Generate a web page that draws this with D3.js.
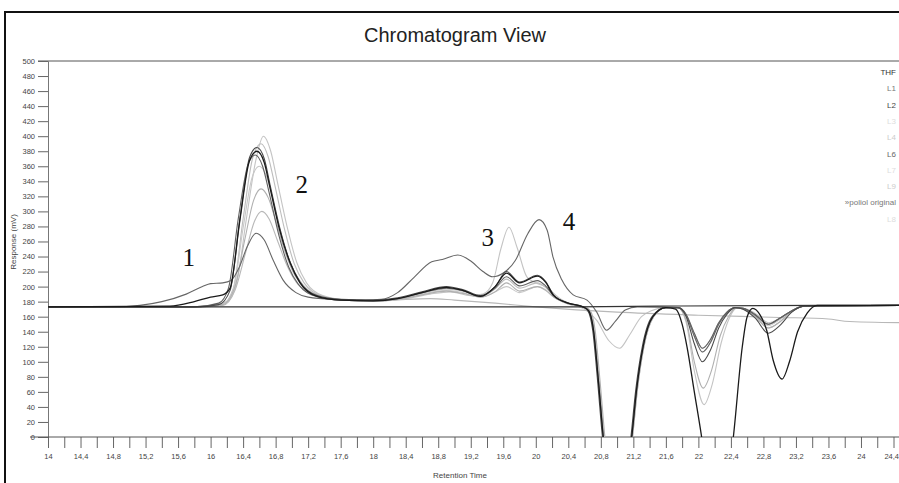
<!DOCTYPE html>
<html><head><meta charset="utf-8">
<script src="https://cdn.jsdelivr.net/npm/d3@7"></script>
<style>
html,body{margin:0;padding:0;background:#fff;}
svg{display:block;}
</style></head>
<body>
<script>
// ---- Data (retention time in min, response in mV) ----
const seriesNames = ["THF","L1","L2","L3","L4","L6","L7","L9","»poliol original","L8"];
const seriesColors = ["#333","#666","#1a1a1a","#c4c4c4","#b0b0b0","#4a4a4a","#bdbdbd","#b8b8b8","#606060","#c8c8c8"];
const legendColors = ["#333","#777","#444","#ddd","#ccc","#666","#ddd","#ccc","#777","#ddd"];

const thf = [[14,173],[18,173],[20.5,173],[21.5,174],[23.5,175],[24.5,175]];

const l1 = [[14,173],[14.8,173],[15.13,175],[15.4,180],[15.7,190],[15.9,200],[16.0,204],[16.15,205],[16.25,208],[16.35,225],[16.45,253],[16.56,271],[16.66,262],[16.77,235],[16.89,209],[17.05,192],[17.2,186],[17.5,183],[17.9,182],[18.1,183],[18.3,192],[18.5,212],[18.72,233],[18.85,236],[19.04,242],[19.2,234],[19.35,220],[19.47,213],[19.6,218],[19.75,235],[19.9,270],[20.04,289],[20.14,275],[20.21,240],[20.32,209],[20.46,189],[20.63,182],[20.75,166],[20.87,142],[20.98,154],[21.1,169],[21.25,173],[21.75,172],[21.85,162],[21.95,134],[22.05,113],[22.15,126],[22.25,150],[22.35,165],[22.45,172],[22.55,171],[22.7,162],[22.86,150],[23.0,158],[23.15,168],[23.3,174],[24.5,175]];

const l2 = [[14,173],[15.5,174],[15.8,180],[16.0,186],[16.15,189],[16.24,198],[16.36,288],[16.48,368],[16.57,380],[16.66,365],[16.73,332],[16.85,275],[16.98,231],[17.1,205],[17.31,187],[17.6,182],[18.0,181],[18.3,184],[18.6,192],[18.9,199],[19.1,195],[19.32,187],[19.5,200],[19.64,218],[19.8,205],[20.02,214],[20.12,206],[20.22,188],[20.4,178],[20.58,173],[20.65,168],[20.71,142],[20.77,75],[20.83,0],[20.9,-60],[21.0,-90],[21.1,-60],[21.18,0],[21.24,63],[21.32,120],[21.44,160],[21.6,172],[21.72,170],[21.8,150],[21.86,120],[21.95,60],[22.04,0],[22.12,-60],[22.24,-90],[22.36,-60],[22.43,0],[22.54,120],[22.6,160],[22.67,171],[22.76,162],[22.84,142],[22.92,102],[23.03,77],[23.12,100],[23.22,140],[23.34,165],[23.46,175],[24.5,175]];

const l3 = [[14,173],[15.8,173],[16.2,180],[16.32,205],[16.44,290],[16.56,370],[16.65,400],[16.74,380],[16.82,340],[16.94,280],[17.06,232],[17.18,205],[17.38,188],[17.7,182],[18.1,181],[18.4,184],[18.7,190],[18.95,193],[19.2,188],[19.35,190],[19.47,205],[19.57,250],[19.67,279],[19.77,252],[19.89,213],[20.0,205],[20.12,200],[20.3,184],[20.45,176],[20.6,170],[20.75,155],[20.9,128],[21.03,118],[21.15,135],[21.3,160],[21.42,168],[21.6,172],[21.75,172],[21.85,152],[21.95,88],[22.07,43],[22.17,70],[22.28,125],[22.38,158],[22.48,172],[22.6,170],[22.72,163],[22.86,152],[23.0,158],[23.15,168],[23.3,174],[24.5,175]];

const l4 = [[14,173],[15.8,173],[16.15,176],[16.3,200],[16.42,262],[16.53,315],[16.62,330],[16.71,318],[16.8,288],[16.92,245],[17.04,214],[17.16,198],[17.36,187],[17.6,182],[18.0,181],[18.3,183],[18.6,189],[18.9,194],[19.1,191],[19.32,186],[19.5,193],[19.64,205],[19.8,194],[20.02,200],[20.12,195],[20.22,186],[20.4,177],[20.6,173],[20.67,168],[20.73,142],[20.79,75],[20.85,0],[20.92,-60],[21.02,-90],[21.12,-60],[21.19,0],[21.25,63],[21.33,120],[21.45,160],[21.6,172],[21.75,172],[21.85,155],[21.95,100],[22.06,65],[22.16,88],[22.27,135],[22.37,160],[22.47,172],[22.57,170],[22.7,160],[22.86,145],[23.0,153],[23.15,167],[23.3,174],[24.5,175]];

const l6 = [[14,173],[15.8,173],[16.1,176],[16.24,195],[16.36,290],[16.48,372],[16.57,385],[16.66,370],[16.73,336],[16.85,278],[16.98,232],[17.1,206],[17.31,188],[17.6,183],[18.0,182],[18.3,185],[18.6,193],[18.9,200],[19.1,196],[19.32,188],[19.5,200],[19.64,220],[19.8,206],[20.02,215],[20.12,207],[20.22,189],[20.4,178],[20.58,173],[20.64,168],[20.7,142],[20.76,75],[20.82,0],[20.9,-60],[21.0,-90],[21.1,-60],[21.17,0],[21.23,63],[21.31,120],[21.43,160],[21.6,172],[21.75,172],[21.85,160],[21.95,124],[22.05,100],[22.15,116],[22.25,145],[22.35,163],[22.45,172],[22.55,170],[22.7,158],[22.86,138],[23.0,148],[23.15,166],[23.3,174],[24.5,175]];

const l7 = [[14,173],[15.8,173],[16.15,177],[16.28,198],[16.4,290],[16.52,372],[16.62,390],[16.71,372],[16.79,335],[16.91,276],[17.03,230],[17.15,205],[17.35,188],[17.6,182],[18.0,181],[18.3,184],[18.6,191],[18.9,197],[19.1,194],[19.32,187],[19.5,197],[19.64,210],[19.8,198],[20.02,205],[20.12,199],[20.22,187],[20.4,177],[20.58,173],[20.66,168],[20.72,142],[20.78,75],[20.84,0],[20.91,-60],[21.01,-90],[21.11,-60],[21.19,0],[21.25,63],[21.33,120],[21.45,160],[21.6,172],[21.75,172],[21.85,162],[21.95,134],[22.05,113],[22.15,126],[22.25,150],[22.35,165],[22.45,172],[22.55,170],[22.7,160],[22.86,145],[23.0,153],[23.15,167],[23.3,174],[24.5,175]];

const l9 = [[14,173],[15.8,173],[16.15,175],[16.3,195],[16.43,245],[16.54,287],[16.63,300],[16.72,290],[16.82,262],[16.94,228],[17.06,205],[17.2,193],[17.4,186],[17.7,182],[18.1,181],[18.4,183],[18.7,184],[19.0,182],[19.5,178],[20.0,173],[20.5,169],[21.0,166],[22.0,162],[23.0,159],[23.6,157],[23.8,154],[24.5,152]];

const poliol = [[14,173],[15.8,173],[16.1,178],[16.22,198],[16.34,290],[16.46,362],[16.55,375],[16.64,360],[16.72,325],[16.84,268],[16.96,226],[17.08,203],[17.3,187],[17.6,182],[18.0,181],[18.3,184],[18.6,192],[18.9,198],[19.1,195],[19.32,187],[19.5,198],[19.64,213],[19.8,201],[20.02,208],[20.12,201],[20.22,188],[20.4,178],[20.58,173],[20.65,168],[20.71,142],[20.77,75],[20.83,0],[20.9,-60],[21.0,-90],[21.1,-60],[21.18,0],[21.24,63],[21.32,120],[21.44,160],[21.6,172],[21.75,172],[21.85,163],[21.95,138],[22.05,118],[22.15,130],[22.25,152],[22.35,166],[22.45,172],[22.55,171],[22.7,163],[22.86,150],[23.0,158],[23.15,168],[23.3,174],[24.5,175]];

const l8 = [[14,173],[15.8,173],[16.15,176],[16.28,196],[16.4,278],[16.51,345],[16.6,360],[16.69,346],[16.78,310],[16.9,258],[17.02,222],[17.14,202],[17.34,187],[17.6,182],[18.0,181],[18.3,183],[18.6,190],[18.9,195],[19.1,192],[19.32,186],[19.5,193],[19.64,200],[19.8,192],[20.02,200],[20.12,196],[20.22,186],[20.4,177],[20.58,173],[20.66,168],[20.72,142],[20.78,75],[20.84,0],[20.91,-60],[21.01,-90],[21.11,-60],[21.18,0],[21.24,63],[21.32,120],[21.44,160],[21.6,172],[21.75,172],[21.85,163],[21.95,138],[22.05,118],[22.15,130],[22.25,152],[22.35,166],[22.45,172],[22.55,171],[22.7,162],[22.86,148],[23.0,156],[23.15,168],[23.3,174],[24.5,175]];

const seriesData = [thf,l1,l2,l3,l4,l6,l7,l9,poliol,l8];
const drawOrder = [3,6,9,4,7,1,8,5,0,2];

const peakLabels = ["1","2","3","4"];
const peakLabelPos = [[15.73,239],[17.12,335],[19.41,265],[20.41,286]];

const yTickValues = d3.range(0,501,20);
const xTickValues = d3.range(0,53).map(i=>14+i*0.2);

// ---- Layout ----
const W=899,H=483;
const svg=d3.select("body").append("svg").attr("width",W).attr("height",H);
const x=d3.scaleLinear().domain([14,24.4]).range([48,893.5]);
const y=d3.scaleLinear().domain([0,500]).range([437,61]);
const loc=d3.formatLocale({decimal:",",thousands:".",grouping:[3],currency:["",""]});
const fmt=loc.format("~g");
const FONT="Liberation Sans, Arial, sans-serif";

// frame
svg.append("path").attr("d","M5,"+H+"V12H"+W).attr("fill","none").attr("stroke","#111").attr("stroke-width",2);

// title
svg.append("text").attr("x",455).attr("y",42).attr("text-anchor","middle")
  .attr("font-family",FONT).attr("font-size",20).attr("fill","#222")
  .text("Chromatogram View");

// top border line at 500
svg.append("line").attr("x1",38).attr("x2",W).attr("y1",y(500)).attr("y2",y(500)).attr("stroke","#555").attr("stroke-width",1);

// y axis
const yAxis=d3.axisLeft(y).tickValues(yTickValues).tickSize(10).tickPadding(3).tickFormat(d=>d);
const gy=svg.append("g").attr("transform","translate(48,0)").call(yAxis);
gy.select(".domain").attr("stroke","#777");
gy.selectAll(".tick line").attr("stroke","#666");
gy.selectAll(".tick text").attr("font-family",FONT).attr("font-size",7.5).attr("fill","#444");

// x axis
const xAxis=d3.axisBottom(x).tickValues(xTickValues).tickSize(11).tickPadding(6)
  .tickFormat((d,i)=> i%2===0 ? fmt(+d.toFixed(1)) : "");
const gx=svg.append("g").attr("transform","translate(0,437)").call(xAxis);
gx.select(".domain").remove();
gx.append("line").attr("x1",30).attr("x2",W).attr("y1",0).attr("y2",0).attr("stroke","#555");
gx.selectAll(".tick line").attr("stroke","#666");
gx.selectAll(".tick text").attr("font-family",FONT).attr("font-size",7.5).attr("fill","#444");
// keep the last label inside the window
gx.selectAll(".tick text").filter((d)=>d>24.3).attr("text-anchor","end").attr("dx",5);

// axis titles
svg.append("text").attr("x",460).attr("y",478).attr("text-anchor","middle")
  .attr("font-family",FONT).attr("font-size",8).attr("fill","#444").text("Retention Time");
svg.append("text").attr("transform","translate(16,242) rotate(-90)").attr("text-anchor","middle")
  .attr("font-family",FONT).attr("font-size",8).attr("fill","#444").text("Response (mV)");

// clip
svg.append("clipPath").attr("id","plotclip").append("rect")
  .attr("x",48).attr("y",y(500)).attr("width",W-48).attr("height",y(0)-y(500));

const line=d3.line().x(d=>x(d[0])).y(d=>y(d[1])).curve(d3.curveMonotoneX);
const gl=svg.append("g").attr("clip-path","url(#plotclip)");
drawOrder.forEach(i=>{
  gl.append("path").datum(seriesData[i]).attr("d",line).attr("fill","none")
    .attr("stroke",seriesColors[i]).attr("stroke-width",i===2?1.3:1.1).attr("stroke-linejoin","round");
});

// legend
seriesNames.forEach((n,i)=>{
  svg.append("text").attr("x",896).attr("y",75+i*16.3).attr("text-anchor","end")
    .attr("font-family",FONT).attr("font-size",8)
    .attr("fill",legendColors[i]).text(n);
});

// peak numbers
const PFS=25;
peakLabels.forEach((t,i)=>{
  svg.append("text").attr("x",x(peakLabelPos[i][0])).attr("y",y(peakLabelPos[i][1])+PFS*0.33)
    .attr("text-anchor","middle")
    .attr("font-family","Liberation Serif, Times New Roman, serif").attr("font-size",PFS).attr("fill","#111").text(t);
});
</script>
</body></html>
